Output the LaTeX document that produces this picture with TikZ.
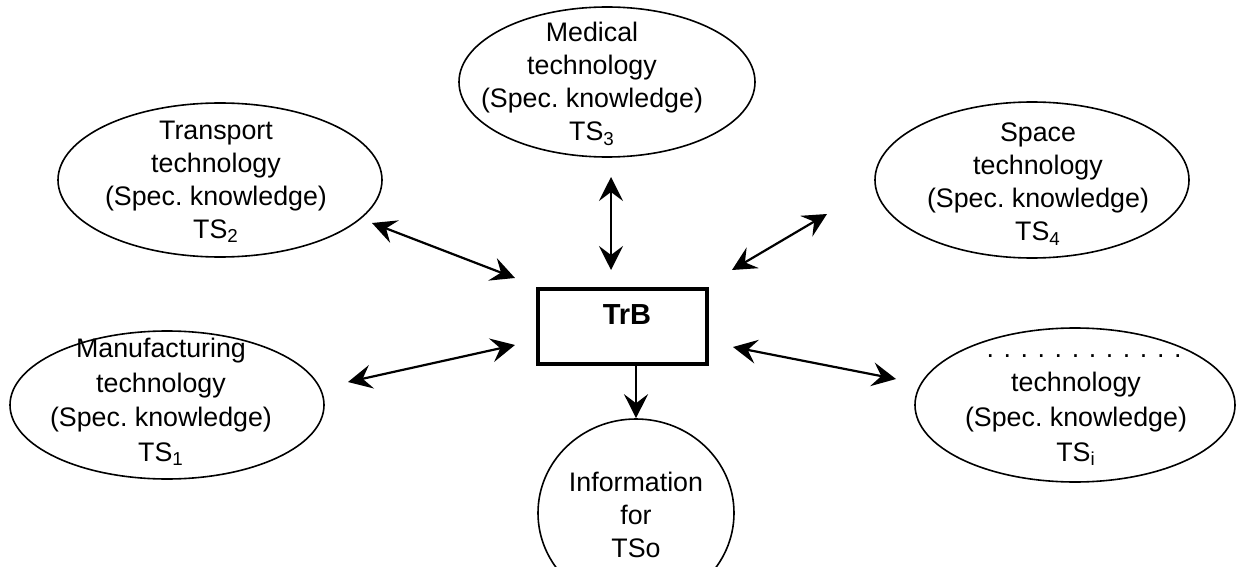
\documentclass[tikz,border=0pt]{standalone}
\usepackage{fontspec}
\setmainfont{Liberation Sans}
\usetikzlibrary{shapes.geometric,arrows.meta}
\newcommand\dotgap{\hspace{4.8pt}}
\begin{document}
\begin{tikzpicture}[x=0.5pt,y=-0.5pt,
  ell/.style={draw, ellipse, line width=0.8pt, inner sep=0pt},
  lbl/.style={align=center, font=\fontsize{13.4}{16.5}\selectfont, inner sep=0pt},
  lblw/.style={align=center, font=\fontsize{13.4}{17.3}\selectfont, inner sep=0pt},
  biarrow/.style={line width=1.1pt, {Stealth[length=12pt,width=12pt,inset=4.5pt]}-{Stealth[length=12pt,width=12pt,inset=4.5pt]}},
  onearrow/.style={line width=1.1pt, -{Stealth[length=12pt,width=12pt,inset=4.5pt]}},
  box/.style={draw, rectangle, line width=2pt, inner sep=0pt}
]
\useasboundingbox (0,0) rectangle (1237,567);
\clip (0,0) rectangle (1237,567);

% ellipses
\node[ell, minimum width=148pt, minimum height=75pt] (med) at (607,82) {};
\node[ell, minimum width=162pt, minimum height=77pt] (trans) at (220,180) {};
\node[ell, minimum width=157pt, minimum height=78pt] (space) at (1032,180) {};
\node[ell, minimum width=157pt, minimum height=74pt] (manu) at (167,405) {};
\node[ell, minimum width=160pt, minimum height=77pt] (tsi) at (1075,405) {};
\node[ell, minimum width=98pt, minimum height=94pt] (tso) at (636,513) {};

% central box
\node[box, minimum width=84.5pt, minimum height=37.5pt] (trb) at (622.5,326.5) {};
\node[font=\fontsize{14.5}{17}\selectfont\bfseries, inner sep=0pt] (trbt) at (627,315) {TrB};

% labels
\node[lbl] (medt) at (592,84) {Medical\\technology\\(Spec.~knowledge)\\TS\textsubscript{3}};
\node[lbl] (transt) at (216,182) {Transport\\technology\\(Spec.~knowledge)\\TS\textsubscript{2}};
\node[lbl] (spacet) at (1038,184) {Space\\technology\\(Spec.~knowledge)\\TS\textsubscript{4}};
\node[lblw] (manut) at (161,402) {Manufacturing\\technology\\(Spec.~knowledge)\\TS\textsubscript{1}};
\node[lblw] (tsit) at (1076,410) {\hspace{8pt}.\dotgap.\dotgap.\dotgap.\dotgap.\dotgap.\dotgap.\dotgap.\dotgap.\dotgap.\dotgap.\dotgap.\\technology\\(Spec.~knowledge)\\TS\textsubscript{i}};
\node[lbl] (tsot) at (636,515) {Information\\for\\TSo};

% arrow end points
\coordinate (a1) at (372,223);
\coordinate (b1) at (515,278);
\coordinate (a2) at (611,177);
\coordinate (b2) at (611,270);
\coordinate (a3) at (732,270);
\coordinate (b3) at (827,214);
\coordinate (a4) at (348,382);
\coordinate (b4) at (515,345);
\coordinate (a5) at (733,347);
\coordinate (b5) at (896,379);

\draw[biarrow] (a1) -- (b1);
\draw[biarrow] (a2) -- (b2);
\draw[biarrow] (a3) -- (b3);
\draw[biarrow] (a4) -- (b4);
\draw[biarrow] (a5) -- (b5);
\draw[onearrow] (trb.south -| tso.north) -- (tso.north);
\end{tikzpicture}
\end{document}
